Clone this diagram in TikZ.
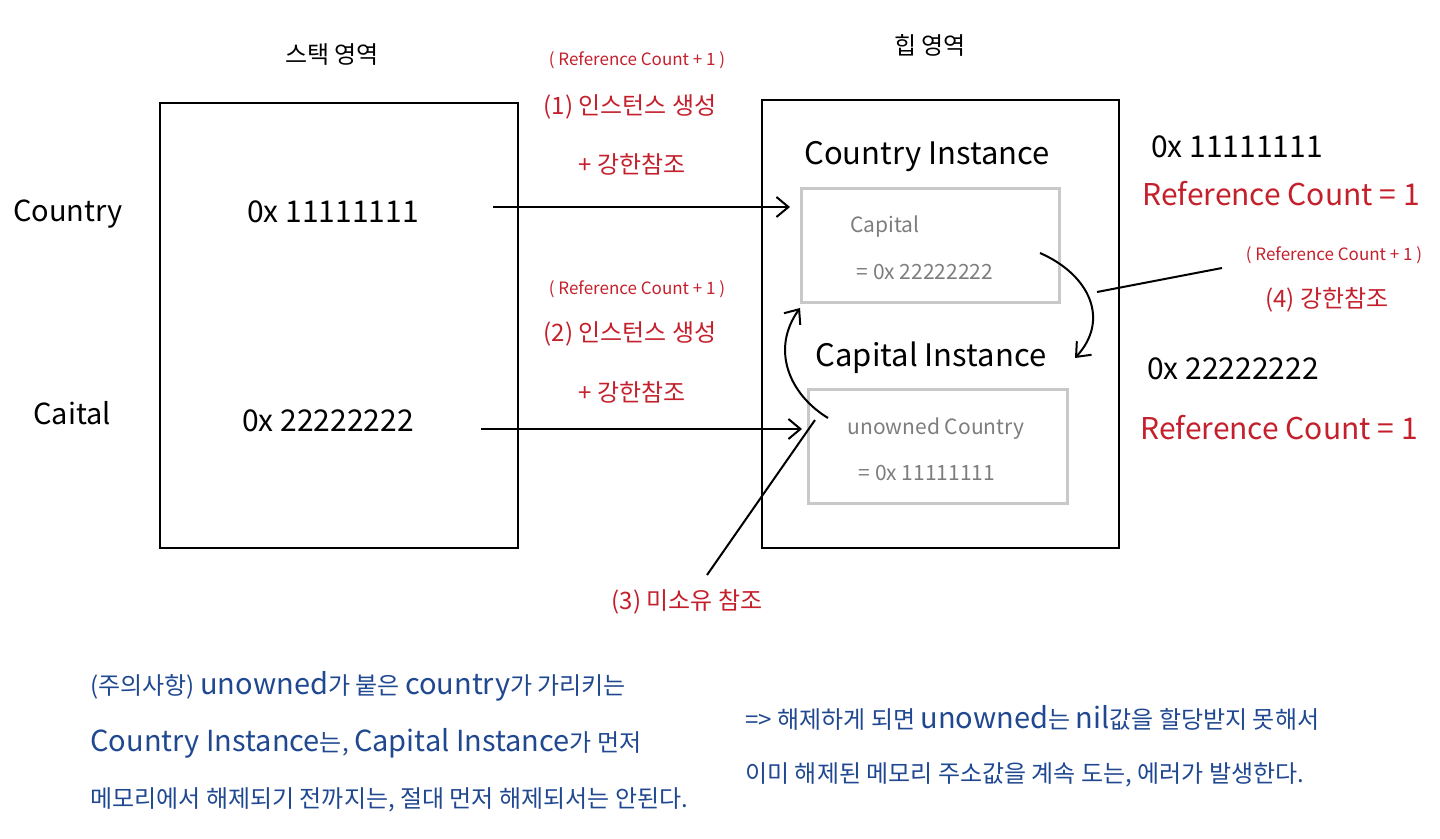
\documentclass[tikz,border=0pt]{standalone}
\usepackage{fontspec}
\setmainfont{Noto Sans CJK KR}
\newcommand\latx[1]{{\fontsize{14.5}{16}\selectfont #1}}
\usetikzlibrary{arrows.meta}
\definecolor{redt}{RGB}{196,32,44}
\definecolor{bluet}{RGB}{32,72,145}
\definecolor{grayt}{RGB}{125,125,125}
\definecolor{grayb}{RGB}{200,200,200}
\begin{document}
\begin{tikzpicture}[x=0.5pt,y=-0.5pt,
  bigbox/.style={draw=black,line width=1pt},
  innerbox/.style={draw=grayb,line width=1.5pt},
  blk/.style={font=\fontsize{12}{14}\selectfont,text=black,inner sep=0pt},
  blkl/.style={font=\fontsize{15}{17}\selectfont,text=black,inner sep=0pt},
  blkt/.style={font=\fontsize{15.5}{17}\selectfont,text=black,inner sep=0pt},
  redl/.style={font=\fontsize{12}{14}\selectfont,text=redt,inner sep=0pt},
  redll/.style={font=\fontsize{15}{17}\selectfont,text=redt,inner sep=0pt},
  reds/.style={font=\fontsize{8.5}{10}\selectfont,text=redt,inner sep=0pt},
  grayl/.style={font=\fontsize{10.5}{12}\selectfont,text=grayt,inner sep=0pt},
  bluel/.style={font=\fontsize{12}{14}\selectfont,text=bluet,inner sep=0pt,anchor=west},
  arr/.style={line width=1pt,-{Straight Barb[length=6pt,width=10pt,line width=1pt]}},
  ln/.style={line width=1pt}]
\useasboundingbox (0,0) rectangle (1440,839);
% boxes
\draw[bigbox] (160,103) rectangle (518,548);
\draw[bigbox] (762,100) rectangle (1119,548);
\node[innerbox,minimum width=129pt,minimum height=57pt,anchor=north west] (cbox) at (800,187) {};
\node[innerbox,minimum width=129.5pt,minimum height=57pt,anchor=north west] (pbox) at (807,388) {};
% titles
\node[blk] (stackt) at (332,55) {스택 영역};
\node[blk] (heapt) at (930,45) {힙 영역};
% stack contents
\node[blkl,font=\fontsize{14.5}{16}\selectfont] (lcountry) at (68,214) {Country};
\node[blkl,font=\fontsize{14.5}{16}\selectfont] (lcapital) at (72,413) {Caital};
\node[blkl] (s1) at (333,212) {0x 11111111};
\node[blkl] (s2) at (328,421) {0x 22222222};
% red labels
\node[reds] (rc1) at (637,60) {( Reference Count + 1 )};
\node[redl] (st1) at (630,107) {(1) 인스턴스 생성};
\node[redl] (sr1) at (632,164) {+ 강한참조};
\node[reds] (rc2) at (637,289) {( Reference Count + 1 )};
\node[redl] (st2) at (630,334) {(2) 인스턴스 생성};
\node[redl] (sr2) at (632,392) {+ 강한참조};
% heap contents
\node[blkt] (cinst) at (927,157) {Country Instance};
\node[grayl] (ccap) at (885,227) {Capital};
\node[grayl] (cval) at (925,272) {= 0x 22222222};
\node[blkt] (pinst) at (931,358) {Capital Instance};
\node[grayl] (pun) at (936,429) {unowned Country};
\node[grayl] (pval) at (927,473) {= 0x 11111111};
% right labels
\node[blkl] (r1) at (1237,147) {0x 11111111};
\node[redll] (rc1r) at (1281,194) {Reference Count = 1};
\node[reds] (rc4) at (1334,255) {( Reference Count + 1 )};
\node[redl] (st4) at (1327,300) {(4) 강한참조};
\node[blkl] (r2) at (1233,369) {0x 22222222};
\node[redll] (rc2r) at (1279,428) {Reference Count = 1};
\node[redl] (st3) at (687,602) {(3) 미소유 참조};
% connectors
\coordinate (a1s) at (493,207);
\coordinate (a1e) at (790,207);
\coordinate (a2s) at (481,429);
\coordinate (a2e) at (802,429);
\draw[arr] (a1s) -- (a1e);
\draw[arr] (a2s) -- (a2e);
\coordinate (c4s) at (1040,253);
\coordinate (c4e) at (1075,358);
\coordinate (c4m) at (1097,292);
\coordinate (l4s) at (1222,268);
\draw[arr] (c4s) .. controls (1090,275) and (1110,320) .. (c4e);
\draw[ln] (l4s) -- (c4m);
\coordinate (c3s) at (828,418);
\coordinate (c3e) at (800,308);
\draw[arr] (c3s) .. controls (790,395) and (770,350) .. (c3e);
\coordinate (l3s) at (707,575);
\coordinate (l3e) at (815,420);
\draw[ln] (l3s) -- (l3e);
% bottom notes
\node[bluel] (n1) at (90,686) {(주의사항) \latx{unowned}가 붙은 \latx{country}가 가리키는};
\node[bluel] (n2) at (90,743) {\latx{Country Instance}는, \latx{Capital Instance}가 먼저};
\node[bluel] (n3) at (90,800) {메모리에서 해제되기 전까지는, 절대 먼저 해제되서는 안된다.};
\node[bluel] (n4) at (745,718) {=> 해제하게 되면 \latx{unowned}는 \latx{nil}값을 할당받지 못해서};
\node[bluel] (n5) at (745,775) {이미 해제된 메모리 주소값을 계속 도는, 에러가 발생한다.};
\end{tikzpicture}
\end{document}
